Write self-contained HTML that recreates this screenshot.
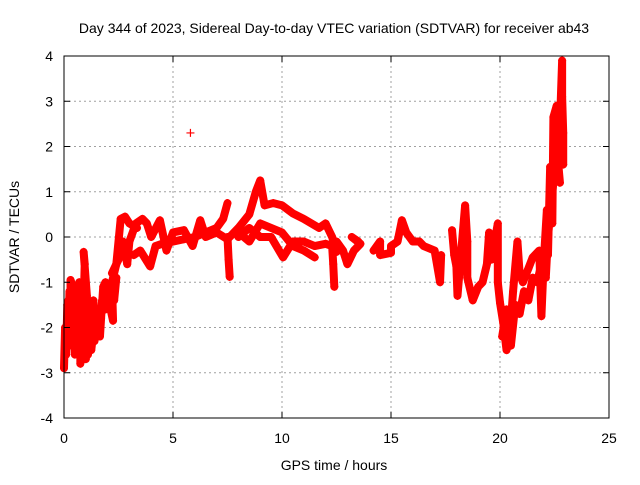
<!DOCTYPE html>
<html><head><meta charset="utf-8"><style>
body{margin:0;background:#fff}
svg text{font-family:"Liberation Sans",sans-serif;font-size:14px;fill:#000}
</style></head><body>
<svg id="c" width="640" height="480">
<rect width="640" height="480" fill="#fff"/>
<g id="grid"></g><g id="data"></g><g id="axes"></g>
<text x="334" y="33" text-anchor="middle">Day 344 of 2023, Sidereal Day-to-day VTEC variation (SDTVAR) for receiver ab43</text>
<text x="334" y="470" text-anchor="middle">GPS time / hours</text>
<text transform="translate(19,237) rotate(-90)" text-anchor="middle">SDTVAR / TECUs</text>
</svg>
<script>
const xTicks=[0,5,10,15,20,25];
const yTicks=[-4,-3,-2,-1,0,1,2,3,4];
const trackA=[[0,-2.9],[0.05,-2],[0.1,-2.6],[0.15,-1.5],[0.2,-2.3],[0.25,-1.2],[0.3,-2.0],[0.3,-0.95],[0.4,-1.1],[0.45,-1.8],[0.5,-2.6],[0.6,-2.0],[0.7,-1.0],[0.75,-1.7],[0.75,-2.8],[0.9,-1.5],[0.95,-0.6],[0.9,-0.33],[1.05,-1.3],[1.1,-2.6],[1.2,-2.2],[1.3,-1.8],[1.35,-1.4],[1.4,-2.3],[1.5,-1.6],[1.65,-2.2],[1.7,-1.8],[1.8,-1.1],[1.9,-1.0],[2.0,-1.3],[2.25,-1.85],[2.2,-1.0],[2.4,-0.6],[2.5,-0.1],[2.6,0.4],[2.8,0.45],[3.0,0.3],[3.35,0.2]];
const trackK=[[0.1,-2.2],[0.2,-1.4],[0.35,-2.4],[0.45,-1.3],[0.55,-2.3],[0.65,-1.5],[0.8,-2.5],[0.9,-2.0],[1.0,-2.7],[1.15,-1.9],[1.25,-2.5],[1.45,-1.7],[1.6,-2.0],[1.75,-1.4],[1.9,-1.6],[2.1,-1.2],[2.3,-1.4],[2.4,-0.9]];
const trackB=[[2.2,-0.8],[2.5,-0.5],[2.7,-0.1],[2.9,-0.6],[3.0,-0.1],[3.3,0.3],[3.6,0.4],[3.8,0.3],[4.0,0.0],[4.4,0.37],[4.7,-0.3],[5.0,0.1],[5.5,0.15],[5.9,-0.2],[6.25,0.37],[6.5,0.0],[7.0,0.1],[7.5,-0.05],[8.0,0.2],[8.5,0.5],[8.8,1.0],[9.0,1.25],[9.2,0.7],[9.6,0.75],[10.0,0.7],[10.5,0.52],[11.0,0.4],[11.7,0.2],[12.0,0.3],[12.3,0.0],[12.5,-0.33]];
const trackC=[[3.2,-0.4],[3.5,-0.3],[3.95,-0.65],[4.2,-0.2],[4.5,-0.15],[5.0,-0.1],[5.5,-0.05],[6.0,0],[6.5,0.1],[7.0,0.2],[7.3,0.4],[7.5,0.75]];
const trackD=[[7.5,0],[7.55,-0.5],[7.6,-0.88]];
const trackE=[[8.0,0],[8.5,0.2],[9.0,0],[9.5,0],[10.05,-0.45],[10.5,-0.1],[11.0,-0.1],[11.5,-0.2],[12.0,-0.15],[12.3,-0.2],[12.35,-0.6],[12.4,-1.1]];
const trackF=[[8.0,0.1],[8.5,-0.1],[9.0,0.3],[9.5,0.2],[10.0,0.1],[10.5,-0.2],[11.0,-0.3],[11.5,-0.45]];
const trackG=[[12.5,-0.1],[12.8,-0.3],[13.0,-0.6],[13.3,-0.3],[13.6,-0.15],[13.2,0.0],[13.5,-0.1]];
const trackH=[[14.2,-0.3],[14.5,-0.1],[14.5,-0.4],[15.0,-0.35],[15.0,-0.2],[15.3,-0.1],[15.5,0.37],[15.7,0.1],[16.0,-0.1],[16.3,-0.1],[16.5,-0.2],[17.0,-0.3],[17.25,-1.0],[17.3,-0.4]];
const trackI=[[17.8,0.15],[17.9,-0.4],[18.0,-0.65],[18.05,-1.3],[18.4,0.7],[18.5,-0.1],[18.5,-0.9],[18.75,-1.4],[19.0,-1.1],[19.2,-1.0],[19.4,-0.6],[19.5,0.1],[19.6,-0.5],[19.9,0.3],[19.9,-1.0],[20.0,-1.45]];
const trackJ=[[20.0,-1.45],[20.15,-1.9],[20.3,-2.5],[20.45,-2.2],[20.6,-1.2],[20.8,-0.1],[20.9,-0.8],[21.05,-1.0],[21.3,-0.7],[21.5,-0.45],[21.8,-0.3],[21.9,-1.75],[22.0,-0.6],[22.15,0.6],[22.2,-0.4],[22.3,1.55],[22.4,0.3],[22.45,2.65],[22.6,2.9],[22.7,1.8],[22.85,3.9],[22.85,3.1],[22.9,2.3],[22.9,1.6]];
const trackL=[[20.1,-2.2],[20.3,-1.6],[20.5,-2.4],[20.7,-1.5],[20.9,-1.7],[21.1,-1.2],[21.3,-1.4],[21.5,-0.9],[21.7,-1.0],[21.9,-0.6],[22.1,-0.9],[22.2,0.0],[22.35,0.8],[22.5,1.4],[22.6,2.0],[22.75,1.2]];
const outliers=[[5.8,2.3]];
const tracks=[trackA,trackK,trackB,trackC,trackD,trackE,trackF,trackG,trackH,trackI,trackJ,trackL,outliers];
const X0=64,X1=609,Y0=418,Y1=56;
const sx=t=>X0+(t-0)/(25-0)*(X1-X0);
const sy=v=>Y0-(v+4)/8*(Y0-Y1);
const NS='http://www.w3.org/2000/svg';
function mk(tag,attrs,parent){const e=document.createElementNS(NS,tag);for(const k in attrs)e.setAttribute(k,attrs[k]);parent.appendChild(e);return e;}
const grid=document.getElementById('grid'),axes=document.getElementById('axes'),data=document.getElementById('data');
xTicks.forEach(t=>{const x=sx(t);
 if(t>0&&t<25){const g=mk('line',{x1:x,x2:x,y1:Y1,y2:Y0,stroke:'#a0a0a0','stroke-dasharray':'2,3'},grid);
 
 }
 mk('line',{x1:x,x2:x,y1:Y0,y2:Y0-6,stroke:'#000'},axes);mk('line',{x1:x,x2:x,y1:Y1,y2:Y1+6,stroke:'#000'},axes);
 const l=mk('text',{x:x,y:Y0+25,'text-anchor':'middle'},axes);l.textContent=t;
 
 });
yTicks.forEach(v=>{const y=sy(v);
 if(v>-4&&v<4){const g=mk('line',{x1:X0,x2:X1,y1:y,y2:y,stroke:'#a0a0a0','stroke-dasharray':'2,3'},grid);
 
 }
 mk('line',{x1:X0,x2:X0+6,y1:y,y2:y,stroke:'#000'},axes);mk('line',{x1:X1,x2:X1-6,y1:y,y2:y,stroke:'#000'},axes);
 const l=mk('text',{x:X0-11,y:y+5,'text-anchor':'end'},axes);l.textContent=v;
 
 });
const fr=mk('rect',{x:X0,y:Y1,width:X1-X0,height:Y0-Y1,fill:'none',stroke:'#000'},axes);


tracks.forEach(tr=>{
 if(tr.length>1){const pl=mk('polyline',{points:tr.map(p=>sx(p[0])+','+sy(p[1])).join(' '),fill:'none',stroke:'#f00','stroke-width':8,'stroke-linejoin':'round','stroke-linecap':'round'},data);
 
 }
 tr.forEach(p=>{const x=sx(p[0]),y=sy(p[1]);
  const m=mk('path',{d:`M${x-4},${y}H${x+4}M${x},${y-4}V${y+4}`,stroke:'#f00','stroke-width':1.2},data);
  
  });
});
</script>
</body></html>
